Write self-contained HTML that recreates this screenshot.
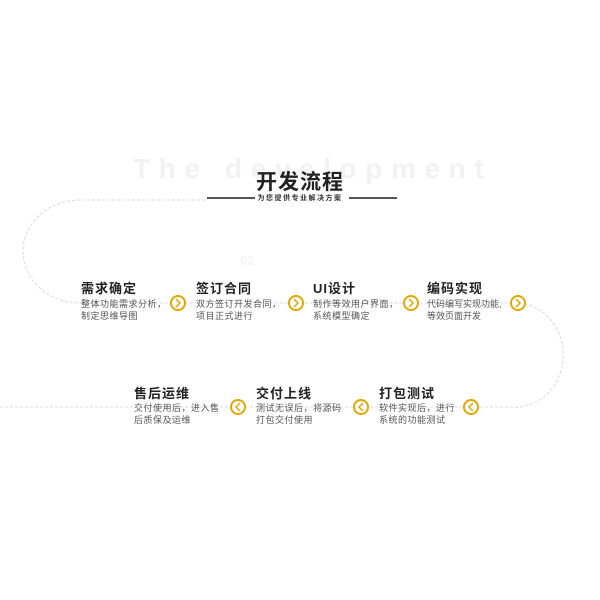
<!DOCTYPE html>
<html><head><meta charset="utf-8"><style>
body{margin:0;width:600px;height:600px;background:#fff;position:relative;overflow:hidden;font-family:"Liberation Sans","Noto Sans CJK SC",sans-serif}
.a{position:absolute;white-space:nowrap}
.t{font-size:13px;font-weight:bold;color:#222;letter-spacing:1px}
.d{font-size:9px;color:#555;line-height:12px;letter-spacing:0.5px}
</style></head><body>
<div class="a" style="left:133px;top:153px;font-size:28px;font-weight:bold;color:#f2f2f2;letter-spacing:8.6px">The development</div>
<div class="a" style="left:240px;top:253px;font-size:13px;color:#f4f4f4;font-weight:bold">02</div>
<svg class="a" style="left:0;top:0" width="600" height="600">
<path d="M205 200 H80 A57 51.5 0 0 0 80 303 H520 A48 52 0 0 1 510 407 H0" fill="none" stroke="#d8d8d8" stroke-width="1" stroke-dasharray="3,2"/>
<line x1="207" y1="198" x2="255" y2="198" stroke="#555" stroke-width="2"/>
<line x1="349" y1="198" x2="397" y2="198" stroke="#555" stroke-width="2"/>
<g fill="#fff" stroke="#e0a800" stroke-width="2">
<circle cx="178" cy="303" r="7"/><circle cx="296" cy="303" r="7"/><circle cx="411" cy="303" r="7"/><circle cx="518" cy="303" r="7"/>
<circle cx="238" cy="407" r="7"/><circle cx="361" cy="407" r="7"/><circle cx="471" cy="407" r="7"/>
</g>
<g fill="none" stroke="#e0a800" stroke-width="1.5">
<path d="M176 299 l4 4 l-4 4"/><path d="M294 299 l4 4 l-4 4"/><path d="M409 299 l4 4 l-4 4"/><path d="M516 299 l4 4 l-4 4"/>
<path d="M240 403 l-4 4 l4 4"/><path d="M363 403 l-4 4 l4 4"/><path d="M473 403 l-4 4 l4 4"/>
</g>
</svg>
<div class="a" style="left:0;width:600px;text-align:center;top:166px;font-size:21px;font-weight:bold;color:#222;letter-spacing:1px">开发流程</div>
<div class="a" style="left:0;width:600px;text-align:center;top:193px;font-size:7px;font-weight:bold;color:#333;letter-spacing:1.5px">为您提供专业解决方案</div>

<div class="a t" style="left:81px;top:278px">需求确定</div>
<div class="a d" style="left:81px;top:298px">整体功能需求分析，<br>制定思维导图</div>
<div class="a t" style="left:196px;top:278px">签订合同</div>
<div class="a d" style="left:196px;top:298px">双方签订开发合同，<br>项目正式进行</div>
<div class="a t" style="left:313px;top:278px">UI设计</div>
<div class="a d" style="left:313px;top:298px">制作等效用户界面，<br>系统模型确定</div>
<div class="a t" style="left:427px;top:278px">编码实现</div>
<div class="a d" style="left:427px;top:298px;letter-spacing:0">代码编写实现功能,<br>等效页面开发</div>

<div class="a t" style="left:134px;top:383px">售后运维</div>
<div class="a d" style="left:134px;top:402px">交付使用后，进入售<br>后质保及运维</div>
<div class="a t" style="left:256px;top:383px">交付上线</div>
<div class="a d" style="left:256px;top:402px">测试无误后，将源码<br>打包交付使用</div>
<div class="a t" style="left:379px;top:383px">打包测试</div>
<div class="a d" style="left:379px;top:402px">软件实现后，进行<br>系统的功能测试</div>
</body></html>
